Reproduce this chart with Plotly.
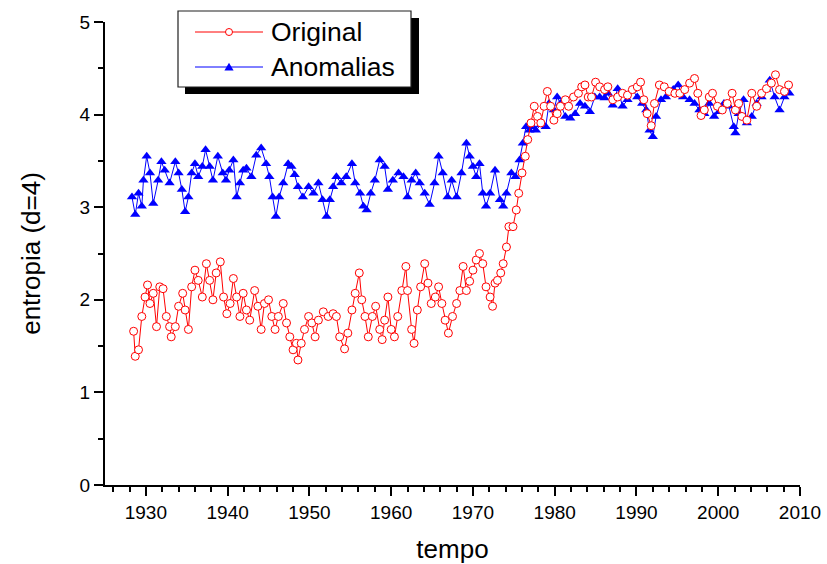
import plotly.graph_objects as go

# ---- data ----
orig_year = [1928.5, 1928.7, 1929.1, 1929.5, 1929.9, 1930.2, 1930.5, 1930.9, 1931.3, 1931.7,
             1932.1, 1932.5, 1932.9, 1933.1, 1933.6, 1934.0, 1934.5, 1934.8, 1935.2, 1935.6,
             1936.0, 1936.4, 1936.9, 1937.4, 1937.8, 1938.2, 1938.6, 1939.1, 1939.5, 1939.9,
             1940.3, 1940.7, 1941.1, 1941.5, 1941.9, 1942.3, 1942.7, 1943.3, 1943.7, 1944.1,
             1944.5, 1945.0, 1945.4, 1945.8, 1946.2, 1946.8, 1947.2, 1947.6, 1948.0, 1948.4,
             1948.6, 1949.0, 1949.4, 1949.9, 1950.3, 1950.7, 1951.1, 1951.7, 1952.3, 1952.9,
             1953.3, 1953.7, 1954.3, 1954.7, 1955.2, 1955.6, 1956.1, 1956.4, 1956.8, 1957.2,
             1957.7, 1958.1, 1958.6, 1958.9, 1959.2, 1959.6, 1960.0, 1960.4, 1960.8, 1961.3,
             1961.8, 1962.0, 1962.5, 1962.8, 1963.2, 1963.6, 1964.1, 1964.5, 1964.9, 1965.4,
             1965.8, 1966.2, 1966.6, 1967.0, 1967.5, 1968.0, 1968.4, 1968.8, 1969.2, 1969.6,
             1970.0, 1970.4, 1970.8, 1971.2, 1971.6, 1972.1, 1972.4, 1972.7, 1973.0, 1973.4,
             1973.7, 1974.1, 1974.4, 1974.9, 1975.3, 1975.6, 1976.0, 1976.4, 1976.7, 1977.1,
             1977.5, 1977.9, 1978.3, 1978.7, 1979.1, 1979.5, 1979.9, 1980.3, 1980.7, 1981.3,
             1981.7, 1982.3, 1982.9, 1983.3, 1983.7, 1984.1, 1984.5, 1985.0, 1985.5, 1986.1,
             1986.5, 1987.1, 1987.7, 1988.3, 1988.9, 1989.5, 1990.1, 1990.5, 1990.9, 1991.3,
             1991.8, 1992.2, 1992.8, 1993.4, 1994.0, 1994.7, 1995.3, 1995.9, 1996.5, 1997.1,
             1997.5, 1997.9, 1998.3, 1998.9, 1999.3, 1999.9, 2000.5, 2001.1, 2001.7, 2002.1,
             2002.5, 2002.9, 2003.5, 2004.1, 2004.7, 2005.3, 2005.9, 2006.5, 2007.0, 2007.5,
             2008.1, 2008.6]
orig_val = [1.66, 1.39, 1.46, 1.82, 2.03, 2.16, 1.96, 2.07, 1.71, 2.14,
            2.12, 1.82, 1.71, 1.60, 1.71, 1.93, 2.07, 1.89, 1.68, 2.14,
            2.32, 2.21, 2.03, 2.39, 2.21, 2.00, 2.29, 2.41, 2.03, 1.85,
            1.96, 2.23, 2.03, 1.82, 2.07, 1.89, 1.78, 2.10, 1.93, 1.68,
            1.96, 2.00, 1.82, 1.68, 1.82, 1.96, 1.75, 1.60, 1.46, 1.53,
            1.35, 1.53, 1.68, 1.82, 1.75, 1.60, 1.78, 1.87, 1.82, 1.85,
            1.82, 1.60, 1.47, 1.64, 1.89, 2.07, 2.29, 2.00, 1.82, 1.60,
            1.82, 1.93, 1.68, 1.57, 1.78, 2.03, 1.68, 1.60, 1.82, 2.10,
            2.36, 2.10, 1.68, 1.53, 1.89, 2.14, 2.39, 2.18, 1.96, 2.03,
            2.14, 1.96, 1.78, 1.64, 1.82, 1.96, 2.10, 2.36, 2.10, 2.20,
            2.32, 2.43, 2.50, 2.39, 2.14, 2.03, 1.93, 2.18, 2.21, 2.29,
            2.39, 2.57, 2.79, 2.79, 2.97, 3.15, 3.37, 3.55, 3.73, 3.91,
            4.09, 3.98, 3.91, 4.09, 4.25, 4.09, 3.94, 4.01, 4.09, 4.16,
            4.09, 4.19, 4.23, 4.30, 4.32, 4.19, 4.19, 4.35, 4.30, 4.27,
            4.30, 4.16, 4.19, 4.23, 4.21, 4.27, 4.30, 4.35, 4.16, 4.01,
            3.88, 4.12, 4.32, 4.30, 4.25, 4.23, 4.23, 4.27, 4.34, 4.39,
            4.23, 3.99, 4.05, 4.19, 4.23, 4.09, 4.05, 4.12, 4.23, 4.05,
            4.12, 3.98, 3.94, 4.23, 4.09, 4.23, 4.28, 4.34, 4.43, 4.27,
            4.25, 4.32]

anom_year = [1928.3, 1928.7, 1929.1, 1929.5, 1929.7, 1930.1, 1930.5, 1930.9, 1931.5, 1931.9,
             1932.3, 1932.9, 1933.6, 1934.0, 1934.4, 1934.8, 1935.2, 1935.6, 1936.0, 1936.4,
             1936.9, 1937.3, 1937.8, 1938.2, 1938.8, 1939.4, 1939.8, 1940.2, 1940.7, 1941.1,
             1941.5, 1941.9, 1942.3, 1942.9, 1943.5, 1944.1, 1944.7, 1945.1, 1945.5, 1945.9,
             1946.3, 1946.8, 1947.4, 1947.8, 1948.2, 1948.6, 1949.2, 1949.9, 1950.5, 1951.1,
             1951.6, 1952.1, 1952.5, 1952.9, 1953.3, 1953.9, 1954.5, 1955.2, 1955.6, 1956.2,
             1956.6, 1957.0, 1957.5, 1958.0, 1958.6, 1959.2, 1959.6, 1960.2, 1960.9, 1961.5,
             1962.0, 1962.5, 1963.0, 1963.5, 1964.1, 1964.7, 1965.3, 1965.8, 1966.3, 1966.9,
             1967.4, 1968.0, 1968.6, 1969.2, 1969.6, 1970.0, 1970.4, 1970.8, 1971.2, 1971.6,
             1972.1, 1972.7, 1973.3, 1973.7, 1974.1, 1974.7, 1975.2, 1975.7, 1976.1, 1976.5,
             1976.9, 1977.3, 1977.7, 1978.3, 1978.9, 1979.3, 1979.9, 1980.3, 1980.7, 1981.3,
             1981.9, 1982.5, 1983.1, 1983.7, 1984.3, 1984.9, 1985.5, 1986.1, 1986.5, 1987.1,
             1987.7, 1988.3, 1988.9, 1989.5, 1990.1, 1990.7, 1991.2, 1991.6, 1992.0, 1992.4,
             1993.0, 1993.6, 1994.5, 1995.1, 1995.7, 1996.5, 1997.1, 1997.7, 1998.3, 1998.9,
             1999.5, 2000.1, 2000.7, 2001.3, 2001.9, 2002.1, 2002.5, 2003.1, 2003.5, 2004.1,
             2004.7, 2005.3, 2005.9, 2006.3, 2006.9, 2007.5, 2008.1, 2008.7]
anom_val = [3.11, 2.92, 3.15, 3.01, 3.29, 3.55, 3.37, 3.04, 3.29, 3.49,
            3.40, 3.26, 3.49, 3.37, 3.19, 2.95, 3.11, 3.37, 3.47, 3.33,
            3.44, 3.62, 3.44, 3.29, 3.55, 3.37, 3.29, 3.40, 3.51, 3.11,
            3.26, 3.40, 3.42, 3.33, 3.56, 3.64, 3.47, 3.33, 3.11, 2.90,
            3.11, 3.26, 3.47, 3.44, 3.35, 3.22, 3.11, 3.22, 3.15, 3.26,
            3.08, 2.90, 3.08, 3.22, 3.33, 3.26, 3.33, 3.47, 3.26, 3.15,
            3.01, 2.97, 3.15, 3.29, 3.51, 3.44, 3.19, 3.29, 3.37, 3.33,
            3.11, 3.29, 3.37, 3.26, 3.15, 3.03, 3.26, 3.55, 3.37, 3.11,
            3.29, 3.11, 3.37, 3.69, 3.55, 3.44, 3.33, 3.47, 3.15, 3.01,
            3.15, 3.40, 3.08, 3.01, 3.15, 3.37, 3.33, 3.51, 3.69, 3.87,
            3.83, 3.87, 3.83, 3.89, 3.87, 4.12, 4.05, 4.19, 4.12, 3.98,
            3.96, 4.01, 4.12, 4.09, 4.03, 4.19, 4.19, 4.18, 4.23, 4.10,
            4.28, 4.09, 4.16, 4.27, 4.19, 4.12, 4.05, 3.83, 3.76, 3.98,
            4.16, 4.19, 4.27, 4.32, 4.19, 4.16, 4.12, 4.05, 4.01, 4.12,
            3.98, 4.03, 4.12, 4.09, 3.87, 3.80, 4.01, 4.16, 3.91, 3.98,
            4.12, 4.19, 4.27, 4.37, 4.19, 4.05, 4.19, 4.23]

x_ticks = [1930, 1940, 1950, 1960, 1970, 1980, 1990, 2000, 2010]
y_ticks = [0, 1, 2, 3, 4, 5]
series_names = ["Original", "Anomalias"]

FONT = "Arial, Liberation Sans, sans-serif"
RED = "#ff0000"
BLUE = "#0000ff"

# figure geometry (pixels) used only for placing the hand-drawn legend box
W, H = 827, 564
ML, MR, MT, MB = 105, 27, 22, 79
PW, PH = W - ML - MR, H - MT - MB


def px(x):
    return (x - ML) / PW


def py(y):
    return (H - MB - y) / PH


fig = go.Figure()
fig.add_trace(go.Scatter(
    x=anom_year, y=anom_val, name=series_names[1], mode="lines+markers",
    line=dict(color=BLUE, width=1), showlegend=False,
    marker=dict(symbol="triangle-up", size=9, color=BLUE, line=dict(width=0)),
))
fig.add_trace(go.Scatter(
    x=orig_year, y=orig_val, name=series_names[0], mode="lines+markers",
    line=dict(color=RED, width=1), showlegend=False,
    marker=dict(symbol="circle", size=8, color="white", line=dict(color=RED, width=1)),
))

# legend (box with drop shadow, sample lines and markers, labels)
shapes = [
    dict(type="rect", x0=px(185), x1=px(419), y0=py(94), y1=py(18),
         fillcolor="black", line=dict(width=0)),
    dict(type="rect", x0=px(178), x1=px(411), y0=py(87), y1=py(11),
         fillcolor="white", line=dict(color="#202020", width=1.2)),
    dict(type="line", x0=px(195), x1=px(263), y0=py(32), y1=py(32),
         line=dict(color=RED, width=1)),
    dict(type="line", x0=px(195), x1=px(263), y0=py(67), y1=py(67),
         line=dict(color=BLUE, width=1)),
    dict(type="circle", x0=px(225.5), x1=px(232.5), y0=py(35.5), y1=py(28.5),
         fillcolor="white", line=dict(color=RED, width=1)),
    dict(type="path",
         path=f"M {px(229)} {py(62.8)} L {px(233.6)} {py(70.6)} L {px(224.4)} {py(70.6)} Z",
         fillcolor=BLUE, line=dict(width=0)),
]
for s in shapes:
    s.update(xref="paper", yref="paper", layer="above")

annotations = [
    dict(text=series_names[0], x=px(269), y=py(32), xanchor="left", yanchor="middle",
         xref="paper", yref="paper", showarrow=False, font=dict(size=26.5, family=FONT)),
    dict(text=series_names[1], x=px(269), y=py(67), xanchor="left", yanchor="middle",
         xref="paper", yref="paper", showarrow=False, font=dict(size=26.5, family=FONT)),
]

fig.update_layout(
    width=W, height=H,
    margin=dict(l=ML, r=MR, t=MT, b=MB, autoexpand=False),
    paper_bgcolor="white", plot_bgcolor="white",
    font=dict(family=FONT, color="black"),
    showlegend=False,
    shapes=shapes, annotations=annotations,
)
fig.update_xaxes(
    range=[1925, 2010], tickvals=x_ticks, ticktext=[str(v) for v in x_ticks],
    showgrid=False, zeroline=False, showline=True, linecolor="black", linewidth=2,
    ticks="outside", ticklen=9, tickwidth=1.5, tickcolor="black",
    tickfont=dict(size=19, family=FONT), automargin=False,
    minor=dict(dtick=2, tick0=1926, ticks="outside", ticklen=5, tickwidth=1.5, tickcolor="black"),
    title=dict(text="tempo", font=dict(size=26, family=FONT), standoff=20),
)
fig.update_yaxes(
    range=[0, 5], tickvals=y_ticks, ticktext=[str(v) for v in y_ticks],
    showgrid=False, zeroline=False, showline=True, linecolor="black", linewidth=2,
    ticks="outside", ticklen=9, tickwidth=1.5, tickcolor="black",
    tickfont=dict(size=19, family=FONT), automargin=False,
    minor=dict(dtick=0.5, tick0=0, ticks="outside", ticklen=5, tickwidth=1.5, tickcolor="black"),
    title=dict(text="entropia (d=4)", font=dict(size=26, family=FONT), standoff=32),
)

fig.write_html("out.html")
